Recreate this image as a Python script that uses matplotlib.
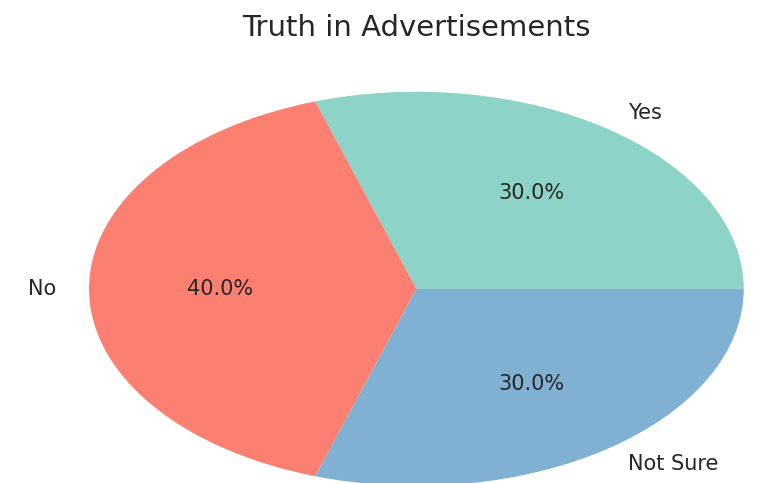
import matplotlib
matplotlib.use("Agg")
import matplotlib.pyplot as plt

# survey answers
labels = ["Yes", "No", "Not Sure"]
shares = [30, 40, 30]
colors = ["#8dd3c7", "#fb8072", "#80b1d3"]

fig = plt.figure(figsize=(7.64, 4.83), dpi=100)
ax = fig.add_axes([0.1165, -0.006, 0.857, 0.816])

wedges, texts, autotexts = ax.pie(
    shares, labels=labels, colors=colors, autopct="%1.1f%%",
    startangle=0, labeldistance=1.1, pctdistance=0.6,
    textprops={"fontsize": 15, "color": "#262626"},
)
# let the pie fill the (wide) axes box
ax.set_aspect("auto")
ax.set_xlim(-1, 1)
ax.set_ylim(-1, 1)
ax.set_title("Truth in Advertisements", fontsize=21, color="#262626", pad=40)

fig.savefig("out.png", dpi=100)
